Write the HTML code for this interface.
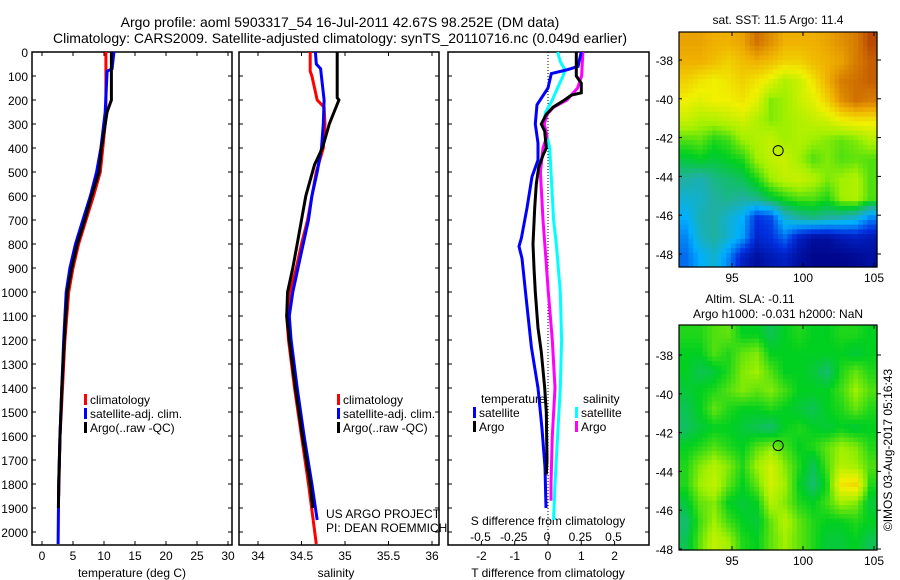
<!DOCTYPE html>
<html><head><meta charset="utf-8">
<style>
html,body{margin:0;padding:0;background:#fff;}
svg{display:block;font-family:"Liberation Sans",sans-serif;}
text{fill:#000;}
</style></head>
<body>
<svg id="c" width="900" height="580" viewBox="0 0 900 580" xmlns="http://www.w3.org/2000/svg">
<text x="340" y="27" font-size="14" text-anchor="middle">Argo profile: aoml 5903317_54 16-Jul-2011 42.67S 98.252E (DM data)</text>
<text x="340" y="43" font-size="14" text-anchor="middle">Climatology: CARS2009. Satellite-adjusted climatology: synTS_20110716.nc (0.049d earlier)</text>
<g id="g"></g>
</svg>
<script>
// ---------- data ----------
const depthTicks=[0,100,200,300,400,500,600,700,800,900,1000,1100,1200,1300,1400,1500,1600,1700,1800,1900,2000];
const tempTicks=[0,5,10,15,20,25,30];
const salTicks=[34,34.5,35,35.5,36];
const tdTicks=[-2,-1,0,1,2];
const sdTicks=[-0.5,-0.25,0,0.25,0.5];
const sdTickLabels=["-0.5","-0.25","0","0.25","0.5"];

const tClimD=[0,100,250,300,400,500,600,700,800,900,1000,1200,1400,1600,1850];
const tClimV=[10.3,10.3,10.3,10.2,9.8,9.4,8.3,7.1,5.9,5.0,4.3,3.7,3.3,2.9,2.7];
const tSatD=[0,70,80,250,400,500,600,700,800,900,1000,1200,1400,1600,1800,2050];
const tSatV=[11.6,11.3,10.5,10.2,9.5,8.8,7.8,6.6,5.4,4.5,3.9,3.5,3.2,2.9,2.7,2.6];
const tArgoD=[0,200,250,400,500,600,700,800,900,1000,1200,1400,1600,1800,1900];
const tArgoV=[11.2,11.2,10.5,9.6,9.2,8.0,6.9,5.7,4.8,4.1,3.6,3.2,2.9,2.7,2.65];

const sClimD=[0,80,100,200,230,300,400,500,600,700,800,900,1000,1100,1200,1400,1600,1800,2050];
const sClimV=[34.60,34.60,34.62,34.68,34.76,34.77,34.75,34.67,34.62,34.57,34.50,34.44,34.37,34.33,34.35,34.42,34.50,34.58,34.67];
const sSatD=[0,50,70,200,300,400,500,600,700,800,900,1000,1100,1200,1400,1600,1800,1950];
const sSatV=[34.66,34.67,34.72,34.76,34.75,34.73,34.68,34.62,34.58,34.52,34.46,34.40,34.36,34.38,34.45,34.53,34.62,34.68];
const sArgoD=[0,190,200,300,400,470,600,700,800,900,1000,1100,1200,1400,1600,1800,1900];
const sArgoV=[34.91,34.91,34.93,34.82,34.74,34.65,34.55,34.50,34.45,34.40,34.34,34.33,34.36,34.43,34.51,34.60,34.63];

const dtSatD=[0,60,75,90,150,220,300,380,450,520,650,775,810,860,1020,1230,1400,1570,1730,1900];
const dtSatV=[1.0,0.9,0.55,0.1,0,-0.33,-0.38,-0.3,-0.3,-0.48,-0.63,-0.8,-0.87,-0.78,-0.66,-0.5,-0.3,-0.18,-0.09,-0.06];
const dtArgoD=[0,100,130,170,180,200,230,260,300,330,400,430,480,550,650,800,900,1000,1150,1250,1400,1500,1700,1760];
const dtArgoV=[0.85,0.85,1.0,1.0,0.7,0.5,0.15,-0.05,-0.2,-0.1,-0.05,-0.15,-0.28,-0.35,-0.4,-0.45,-0.42,-0.38,-0.3,-0.2,-0.1,-0.05,-0.03,-0.05];
const dsSatD=[0,40,75,100,150,200,250,300,350,400,500,700,800,1000,1200,1400,1600,1800,1950];
const dsSatV=[0.08,0.1,0.135,0.12,0.08,0.04,-0.01,-0.03,0,0.02,0.03,0.05,0.07,0.1,0.11,0.1,0.08,0.06,0.05];
const dsArgoD=[0,100,150,200,230,260,300,350,400,500,600,700,850,1000,1200,1400,1600,1800,1870];
const dsArgoV=[0.27,0.26,0.23,0.15,0.05,0,-0.02,0,-0.03,-0.05,-0.04,-0.03,-0.01,0.01,0.04,0.06,0.04,0.03,0.03];

const latTicks=[-38,-40,-42,-44,-46,-48];
const lonTicks=[95,100,105];
const sstGrid=[
[.82,.82,.80,.80,.82,.9,.85,.80,.80,.80,.82,.85,.88,.95],
[.80,.80,.78,.75,.78,.80,.78,.75,.75,.78,.80,.82,.88,.92],
[.75,.72,.70,.72,.75,.72,.68,.62,.65,.72,.80,.88,.90,.92],
[.70,.68,.70,.70,.72,.68,.58,.60,.65,.68,.75,.85,.90,.88],
[.65,.62,.62,.64,.66,.62,.58,.60,.62,.64,.66,.70,.72,.72],
[.55,.56,.52,.54,.60,.62,.64,.60,.62,.60,.58,.56,.58,.62],
[.48,.50,.48,.50,.52,.60,.64,.65,.60,.55,.58,.55,.56,.55],
[.40,.38,.42,.44,.46,.52,.60,.64,.65,.62,.58,.60,.62,.55],
[.35,.36,.40,.42,.40,.42,.48,.52,.55,.55,.52,.60,.62,.55],
[.30,.38,.40,.35,.30,.15,.18,.35,.40,.42,.40,.38,.35,.25],
[.25,.36,.40,.35,.28,.12,.15,.22,.10,.05,.05,.08,.10,.08],
[.22,.30,.35,.25,.10,.05,.08,.10,.05,.02,.02,.02,.03,.05]];
const slaGrid=[
[.52,.52,.55,.56,.50,.50,.46,.50,.52,.50,.50,.52,.52,.50],
[.50,.50,.55,.52,.56,.58,.50,.50,.50,.50,.50,.50,.48,.50],
[.50,.46,.48,.52,.58,.60,.55,.50,.50,.48,.44,.52,.56,.52],
[.48,.50,.52,.55,.58,.56,.58,.54,.50,.50,.50,.54,.60,.55],
[.46,.50,.56,.52,.50,.50,.52,.50,.48,.46,.50,.52,.56,.52],
[.45,.48,.50,.50,.48,.46,.44,.50,.52,.50,.48,.50,.48,.50],
[.50,.52,.55,.52,.50,.55,.58,.54,.50,.52,.56,.60,.58,.52],
[.52,.58,.62,.58,.52,.60,.66,.58,.52,.46,.55,.62,.60,.55],
[.52,.60,.64,.56,.50,.56,.66,.60,.50,.44,.52,.72,.74,.52],
[.48,.56,.58,.50,.48,.50,.62,.58,.52,.50,.54,.60,.58,.48],
[.44,.54,.60,.54,.50,.48,.56,.62,.56,.52,.50,.50,.52,.50],
[.46,.56,.64,.60,.52,.50,.56,.60,.56,.52,.48,.48,.50,.46]];
const floatLon=98.252, floatLat=-42.67;

// ---------- helpers ----------
const NS="http://www.w3.org/2000/svg";
const G=document.getElementById('g');
function mk(tag,attrs,parent){const e=document.createElementNS(NS,tag);for(const k in attrs)e.setAttribute(k,attrs[k]);(parent||G).appendChild(e);return e;}
function txt(x,y,s,size,anchor,parent){const e=mk('text',{x:x,y:y,'font-size':size,'text-anchor':anchor||'middle'},parent);e.textContent=s;return e;}
const PT=52,PB=545;
const yD=d=>PT+0.24*d;
const xT=t=>42+6.2*t;
const xS=s=>258+87*(s-34);
const xTD=v=>548+33.3*v;
const xSD=v=>547+133*v;

function frame(x0,x1,name){
  const r=mk('rect',{x:x0,y:PT,width:x1-x0,height:PB-PT,fill:'none',stroke:'#000','stroke-width':1.5});
  
  
  depthTicks.forEach(d=>{mk('line',{x1:x0,x2:x0+4,y1:yD(d),y2:yD(d),stroke:'#000'});mk('line',{x1:x1,x2:x1-4,y1:yD(d),y2:yD(d),stroke:'#000'});});
}
function line(ds,vs,fx,color,name){
  const pts=ds.map((d,i)=>fx(vs[i]).toFixed(1)+','+yD(d).toFixed(1)).join(' ');
  const p=mk('polyline',{points:pts,fill:'none',stroke:color,'stroke-width':3,'stroke-linejoin':'miter'});
  
  
}
function legend(x,y,color,label,name){
  const g=mk('g',{});
  
  
  mk('rect',{x:x,y:y-10,width:3,height:11,fill:color},g);
  txt(x+6,y,label,12,'start',g);
}

// panel 1: temperature
frame(32,232,'temperature-panel');
depthTicks.forEach(d=>{const t=txt(28,yD(d)+5,String(d),12,'end');});
tempTicks.forEach(t=>{mk('line',{x1:xT(t),x2:xT(t),y1:PB,y2:PB-4,stroke:'#000'});mk('line',{x1:xT(t),x2:xT(t),y1:PT,y2:PT+4,stroke:'#000'});txt(xT(t),560,String(t),12);});
txt(132,577,'temperature (deg C)',12);
line(tClimD,tClimV,xT,'#f00','temp-climatology-line');
line(tSatD,tSatV,xT,'#00f','temp-satellite-line');
line(tArgoD,tArgoV,xT,'#000','temp-argo-line');
legend(84,404,'#f00','climatology','legend-climatology-1');
legend(84,418,'#00f','satellite-adj. clim.','legend-satellite-1');
legend(84,432,'#000','Argo(..raw -QC)','legend-argo-1');

// panel 2: salinity
frame(239,439,'salinity-panel');
salTicks.forEach(s=>{mk('line',{x1:xS(s),x2:xS(s),y1:PB,y2:PB-4,stroke:'#000'});mk('line',{x1:xS(s),x2:xS(s),y1:PT,y2:PT+4,stroke:'#000'});txt(xS(s),560,String(s),12);});
txt(336,577,'salinity',12);
line(sClimD,sClimV,xS,'#f00','sal-climatology-line');
line(sSatD,sSatV,xS,'#00f','sal-satellite-line');
line(sArgoD,sArgoV,xS,'#000','sal-argo-line');
legend(337,404,'#f00','climatology','legend-climatology-2');
legend(337,418,'#00f','satellite-adj. clim.','legend-satellite-2');
legend(337,432,'#000','Argo(..raw -QC)','legend-argo-2');
txt(326,518,'US ARGO PROJECT',12,'start');
txt(326,532,'PI: DEAN ROEMMICH',12,'start');

// panel 3: differences
frame(448,649,'difference-panel');
mk('line',{x1:xTD(0),x2:xTD(0),y1:PT,y2:PB,stroke:'#000','stroke-dasharray':'1,2'});
tdTicks.forEach(v=>{mk('line',{x1:xTD(v),x2:xTD(v),y1:PB,y2:PB-4,stroke:'#000'});txt(xTD(v),560,String(v),12);});
txt(548,577,'T difference from climatology',12);
txt(548,525,'S difference from climatology',12);
sdTicks.forEach((v,i)=>txt(xSD(v),541,sdTickLabels[i],12));
line(dsSatD,dsSatV,xSD,'#0ff','sal-diff-satellite-line');
line(dsArgoD,dsArgoV,xSD,'#f0f','sal-diff-argo-line');
line(dtSatD,dtSatV,xTD,'#00f','temp-diff-satellite-line');
line(dtArgoD,dtArgoV,xTD,'#000','temp-diff-argo-line');
txt(481,403,'temperature',12,'start');
txt(583,403,'salinity',12,'start');
legend(473,417,'#00f','satellite','legend-temp-satellite');
legend(473,431,'#000','Argo','legend-temp-argo');
legend(575,417,'#0ff','satellite','legend-sal-satellite');
legend(575,431,'#f0f','Argo','legend-sal-argo');

// maps
const stops=[[0,[0,0,128]],[0.15,[0,48,224]],[0.3,[0,176,255]],[0.4,[32,176,160]],[0.5,[0,208,32]],[0.6,[160,240,0]],[0.7,[240,240,0]],[0.8,[240,176,0]],[0.9,[208,112,0]],[1,[160,32,0]]];
function cmap(v){v=Math.max(0,Math.min(1,v));for(let i=1;i<stops.length;i++){if(v<=stops[i][0]){const a=stops[i-1],b=stops[i],f=(v-a[0])/(b[0]-a[0]);return 'rgb('+a[1].map((c,k)=>Math.round(c+(b[1][k]-c)*f)).join(',')+')';}}return 'rgb(160,32,0)';}
function drawMap(grid,x0,y0,w,h,lat38y,name){
  const gm=mk('g',{});
  
  
  const R=grid.length,C=grid[0].length,N=42,M=50;
  const cw=w/N,ch=h/M;
  for(let j=0;j<M;j++)for(let i=0;i<N;i++){
    const gx=Math.min(C-1.001,Math.max(0,(i+0.5)/N*C-0.5)),gy=Math.min(R-1.001,Math.max(0,(j+0.5)/M*R-0.5));
    const ix=Math.floor(gx),iy=Math.floor(gy),fx=gx-ix,fy=gy-iy;
    const v=grid[iy][ix]*(1-fx)*(1-fy)+grid[iy][ix+1]*fx*(1-fy)+grid[iy+1][ix]*(1-fx)*fy+grid[iy+1][ix+1]*fx*fy;
    mk('rect',{x:(x0+i*cw).toFixed(2),y:(y0+j*ch).toFixed(2),width:(cw+0.6).toFixed(2),height:(ch+0.6).toFixed(2),fill:cmap(v)},gm);
  }
  mk('rect',{x:x0,y:y0,width:w,height:h,fill:'none',stroke:'#000','stroke-width':1.2});
  const degY=19.4, lonX=l=>732+(l-95)*14.2;
  latTicks.forEach(l=>{const y=lat38y+(-38-l)*degY;mk('line',{x1:x0+w,x2:x0+w+4,y1:y,y2:y,stroke:'#000'});mk('line',{x1:x0,x2:x0+3,y1:y,y2:y,stroke:'#000'});txt(x0-6,y+5,String(l),12,'end');});
  lonTicks.forEach(l=>{mk('line',{x1:lonX(l),x2:lonX(l),y1:y0+h,y2:y0+h-4,stroke:'#000'});mk('line',{x1:lonX(l),x2:lonX(l),y1:y0,y2:y0+4,stroke:'#000'});txt(lonX(l),y0+h+15,String(l),12);});
  const c=mk('ellipse',{cx:lonX(floatLon),cy:lat38y+(-38-floatLat)*degY,rx:5,ry:5,fill:'none',stroke:'#000','stroke-width':1});
  
  
}
drawMap(sstGrid,679,32,198,235,60,'sst-map');
txt(778,24,'sat. SST: 11.5 Argo: 11.4',12);
drawMap(slaGrid,679,325,198,225,355,'sla-map');
txt(750,303,'Altim. SLA: -0.11',12);
txt(778,318,'Argo h1000: -0.031 h2000: NaN',12);
const st=txt(0,0,'©IMOS 03-Aug-2017 05:16:43',12);
st.setAttribute('transform','translate(892,450) rotate(-90)');


</script>
</body></html>
